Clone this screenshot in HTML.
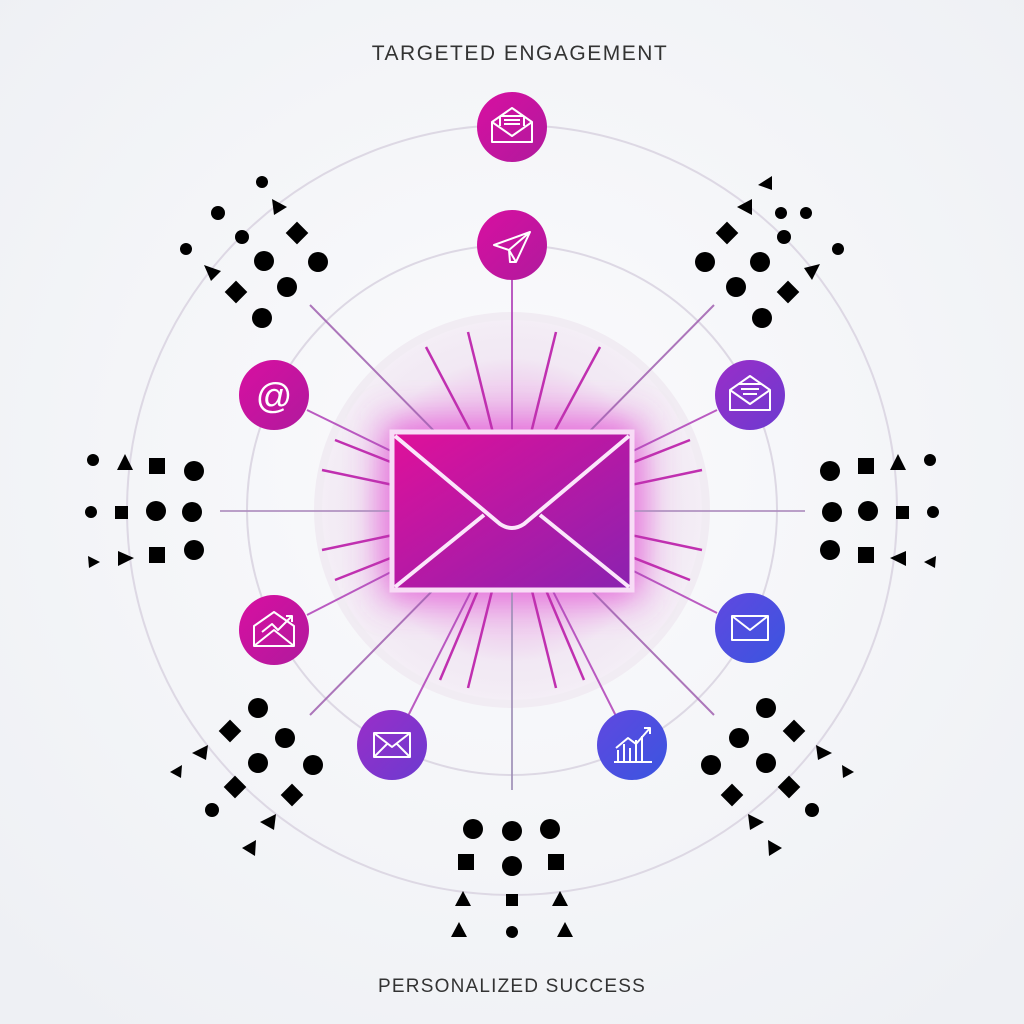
<!DOCTYPE html>
<html><head><meta charset="utf-8"><style>
html,body{margin:0;padding:0;background:#f5f6f9;}
svg{display:block}
</style></head><body>
<svg width="1024" height="1024" viewBox="0 0 1024 1024" xmlns="http://www.w3.org/2000/svg">
<defs>
<radialGradient id="bg" cx="50%" cy="45%" r="70%"><stop offset="0" stop-color="#fbfbfd"/><stop offset="1" stop-color="#eef0f4"/></radialGradient>
<radialGradient id="glow" cx="50%" cy="50%" r="50%"><stop offset="0" stop-color="#e020c0" stop-opacity="0.55"/><stop offset="0.45" stop-color="#e880e0" stop-opacity="0.35"/><stop offset="0.8" stop-color="#f2e6f4" stop-opacity="0.6"/><stop offset="1" stop-color="#f4eef6" stop-opacity="0.9"/></radialGradient>
<linearGradient id="env" x1="0" y1="0" x2="1" y2="1"><stop offset="0" stop-color="#e0109a"/><stop offset="1" stop-color="#8a22b0"/></linearGradient>
<linearGradient id="mag" x1="0" y1="0" x2="1" y2="1"><stop offset="0" stop-color="#d80fa0"/><stop offset="1" stop-color="#b01a9e"/></linearGradient>
<linearGradient id="pur" x1="0" y1="0" x2="1" y2="1"><stop offset="0" stop-color="#9a2ec8"/><stop offset="1" stop-color="#6c3ad0"/></linearGradient>
<linearGradient id="blu" x1="0" y1="0" x2="1" y2="1"><stop offset="0" stop-color="#6048e0"/><stop offset="1" stop-color="#3a55e0"/></linearGradient>
<filter id="blur" x="-50%" y="-50%" width="200%" height="200%"><feGaussianBlur stdDeviation="18"/></filter>
</defs>
<rect width="1024" height="1024" fill="url(#bg)"/>
<g fill="none" stroke="#ddd8e4" stroke-width="2">
<circle cx="512" cy="510" r="385"/>
<circle cx="512" cy="510" r="265"/>
</g>
<circle cx="512" cy="510" r="198" fill="#f1ecf3"/>
<circle cx="512" cy="510" r="190" fill="url(#glow)"/>
<rect x="382" y="420" width="260" height="180" fill="#e040d0" opacity="0.7" filter="url(#blur)"/>
<g stroke="#b040b8" stroke-width="2" opacity="0.85">
<line x1="512" y1="280" x2="512" y2="510"/>
<line x1="307" y1="410" x2="512" y2="510"/>
<line x1="717" y1="410" x2="512" y2="510"/>
<line x1="307" y1="615" x2="512" y2="510"/>
<line x1="717" y1="613" x2="512" y2="510"/>
<line x1="408" y1="716" x2="512" y2="510"/>
<line x1="616" y1="716" x2="512" y2="510"/>
<line x1="310" y1="305" x2="512" y2="510" stroke="#a060b0"/>
<line x1="714" y1="305" x2="512" y2="510" stroke="#a060b0"/>
<line x1="310" y1="715" x2="512" y2="510" stroke="#a060b0"/>
<line x1="714" y1="715" x2="512" y2="510" stroke="#a060b0"/>
<line x1="220" y1="511" x2="512" y2="511" stroke="#b090c0"/>
<line x1="805" y1="511" x2="512" y2="511" stroke="#b090c0"/>
<line x1="512" y1="510" x2="512" y2="790" stroke="#a090b8"/>
</g>
<g stroke="#c030b0" stroke-width="2.5">
<line x1="512" y1="510" x2="426" y2="347"/><line x1="512" y1="510" x2="468" y2="332"/><line x1="512" y1="510" x2="556" y2="332"/><line x1="512" y1="510" x2="600" y2="347"/>
<line x1="512" y1="510" x2="322" y2="470"/><line x1="512" y1="510" x2="322" y2="550"/><line x1="512" y1="510" x2="702" y2="470"/><line x1="512" y1="510" x2="702" y2="550"/>
<line x1="512" y1="510" x2="468" y2="688"/><line x1="512" y1="510" x2="556" y2="688"/><line x1="512" y1="510" x2="440" y2="680"/><line x1="512" y1="510" x2="584" y2="680"/>
<line x1="512" y1="510" x2="335" y2="440"/><line x1="512" y1="510" x2="690" y2="440"/><line x1="512" y1="510" x2="335" y2="580"/><line x1="512" y1="510" x2="690" y2="580"/>
</g>
<rect x="392" y="432" width="240" height="158" fill="url(#env)" stroke="#f8dcf6" stroke-width="5"/>
<g fill="none" stroke="#fbe6fb" stroke-width="4" stroke-linejoin="round">
<path d="M395 436 L500 524 Q512 532 524 524 L629 436"/>
<path d="M395 587 L484 515 M629 587 L540 515"/>
</g>
<g stroke="#fff" stroke-width="2" fill="none" stroke-linejoin="round">
<circle cx="512" cy="127" r="35" fill="url(#mag)" stroke="none"/>
<path d="M492 122 L512 108 L532 122 V142 H492 Z M492 122 L512 136 L532 122 M500 116 V126 M524 116 V126 M500 116 H524 M504 120 H520 M504 124 H520"/>
<circle cx="512" cy="245" r="35" fill="url(#mag)" stroke="none"/>
<path d="M494 245 L530 232 L516 262 L509 250 Z M509 250 L530 232 M509 250 L510 262 L516 262"/>
<circle cx="274" cy="395" r="35" fill="url(#mag)" stroke="none"/>
<text x="274" y="408" font-family="Liberation Sans, sans-serif" font-size="36" fill="#fff" stroke="none" text-anchor="middle">@</text>
<circle cx="750" cy="395" r="35" fill="url(#pur)" stroke="none"/>
<path d="M730 390 L750 376 L770 390 V410 H730 Z M730 390 L750 404 L770 390 M738 384 H762 M741 389 H759 M743 394 H757"/>
<circle cx="274" cy="630" r="35" fill="url(#mag)" stroke="none"/>
<path d="M254 626 L274 612 L294 626 V646 H254 Z M254 646 L274 630 L294 646 M262 632 L272 624 L278 630 L292 616 M286 616 H292 V622"/>
<circle cx="750" cy="628" r="35" fill="url(#blu)" stroke="none"/>
<rect x="732" y="616" width="36" height="24"/><path d="M732 616 L750 630 L768 616"/>
<circle cx="392" cy="745" r="35" fill="url(#pur)" stroke="none"/>
<rect x="374" y="733" width="36" height="24"/><path d="M374 733 L392 747 L410 733 M374 757 L387 744 M410 757 L397 744"/>
<circle cx="632" cy="745" r="35" fill="url(#blu)" stroke="none"/>
<path d="M614 762 H652 M618 762 V750 M624 762 V744 M630 762 V748 M636 762 V740 M642 762 V736 M616 748 L628 738 L636 744 L650 728 M644 728 H650 V734"/>
</g>
<g fill="#000">
<circle cx="262" cy="182" r="6"/><polygon points="272,199 287,207 274,215"/><circle cx="218" cy="213" r="7"/><circle cx="242" cy="237" r="7"/><rect x="289" y="225" width="16" height="16" transform="rotate(45 297 233)"/><circle cx="186" cy="249" r="6"/><circle cx="264" cy="261" r="10"/><circle cx="318" cy="262" r="10"/><polygon points="204,265 221,271 211,281"/><circle cx="287" cy="287" r="10"/><rect x="228" y="284" width="16" height="16" transform="rotate(45 236 292)"/><circle cx="262" cy="318" r="10"/>
<polygon points="772,176 772,190 758,185"/><polygon points="752,199 752,215 737,207"/><circle cx="781" cy="213" r="6"/><circle cx="806" cy="213" r="6"/><rect x="719" y="225" width="16" height="16" transform="rotate(45 727 233)"/><circle cx="784" cy="237" r="7"/><circle cx="838" cy="249" r="6"/><circle cx="705" cy="262" r="10"/><circle cx="760" cy="262" r="10"/><polygon points="820,264 812,280 804,268"/><circle cx="736" cy="287" r="10"/><rect x="780" y="284" width="16" height="16" transform="rotate(45 788 292)"/><circle cx="762" cy="318" r="10"/>
<circle cx="93" cy="460" r="6"/><polygon points="125,454 133,470 117,470"/><rect x="149" y="458" width="16" height="16"/><circle cx="194" cy="471" r="10"/>
<circle cx="91" cy="512" r="6"/><rect x="115" y="506" width="13" height="13"/><circle cx="156" cy="511" r="10"/><circle cx="192" cy="512" r="10"/>
<polygon points="88,556 100,562 89,568"/><polygon points="118,551 134,558 118,566"/><rect x="149" y="547" width="16" height="16"/><circle cx="194" cy="550" r="10"/>
<circle cx="830" cy="471" r="10"/><rect x="858" y="458" width="16" height="16"/><polygon points="898,454 906,470 890,470"/><circle cx="930" cy="460" r="6"/>
<circle cx="832" cy="512" r="10"/><circle cx="868" cy="511" r="10"/><rect x="896" y="506" width="13" height="13"/><circle cx="933" cy="512" r="6"/>
<circle cx="830" cy="550" r="10"/><rect x="858" y="547" width="16" height="16"/><polygon points="906,551 890,558 906,566"/><polygon points="936,556 924,562 935,568"/>
<circle cx="258" cy="708" r="10"/><rect x="222" y="723" width="16" height="16" transform="rotate(45 230 731)"/><circle cx="285" cy="738" r="10"/><polygon points="192,753 208,745 206,760"/><circle cx="258" cy="763" r="10"/><circle cx="313" cy="765" r="10"/><polygon points="170,772 182,765 181,778"/><rect x="227" y="779" width="16" height="16" transform="rotate(45 235 787)"/><rect x="284" y="787" width="16" height="16" transform="rotate(45 292 795)"/><circle cx="212" cy="810" r="7"/><polygon points="260,822 276,814 274,830"/><polygon points="242,848 256,840 255,856"/>
<circle cx="766" cy="708" r="10"/><rect x="786" y="723" width="16" height="16" transform="rotate(45 794 731)"/><circle cx="739" cy="738" r="10"/><polygon points="832,753 816,745 818,760"/><circle cx="766" cy="763" r="10"/><circle cx="711" cy="765" r="10"/><polygon points="854,772 842,765 843,778"/><rect x="781" y="779" width="16" height="16" transform="rotate(45 789 787)"/><rect x="724" y="787" width="16" height="16" transform="rotate(45 732 795)"/><circle cx="812" cy="810" r="7"/><polygon points="764,822 748,814 750,830"/><polygon points="782,848 768,840 769,856"/>
<circle cx="473" cy="829" r="10"/><circle cx="512" cy="831" r="10"/><circle cx="550" cy="829" r="10"/>
<rect x="458" y="854" width="16" height="16"/><circle cx="512" cy="866" r="10"/><rect x="548" y="854" width="16" height="16"/>
<polygon points="463,891 471,906 455,906"/><rect x="506" y="894" width="12" height="12"/><polygon points="560,891 568,906 552,906"/>
<polygon points="459,922 467,937 451,937"/><circle cx="512" cy="932" r="6"/><polygon points="565,922 573,937 557,937"/>
</g>
<text x="520" y="60" font-family="Liberation Sans, sans-serif" font-size="21" letter-spacing="1.5" fill="#333" text-anchor="middle">TARGETED ENGAGEMENT</text>
<text x="512" y="992" font-family="Liberation Sans, sans-serif" font-size="19" letter-spacing="1.2" fill="#333" text-anchor="middle">PERSONALIZED SUCCESS</text>
</svg>
</body></html>
